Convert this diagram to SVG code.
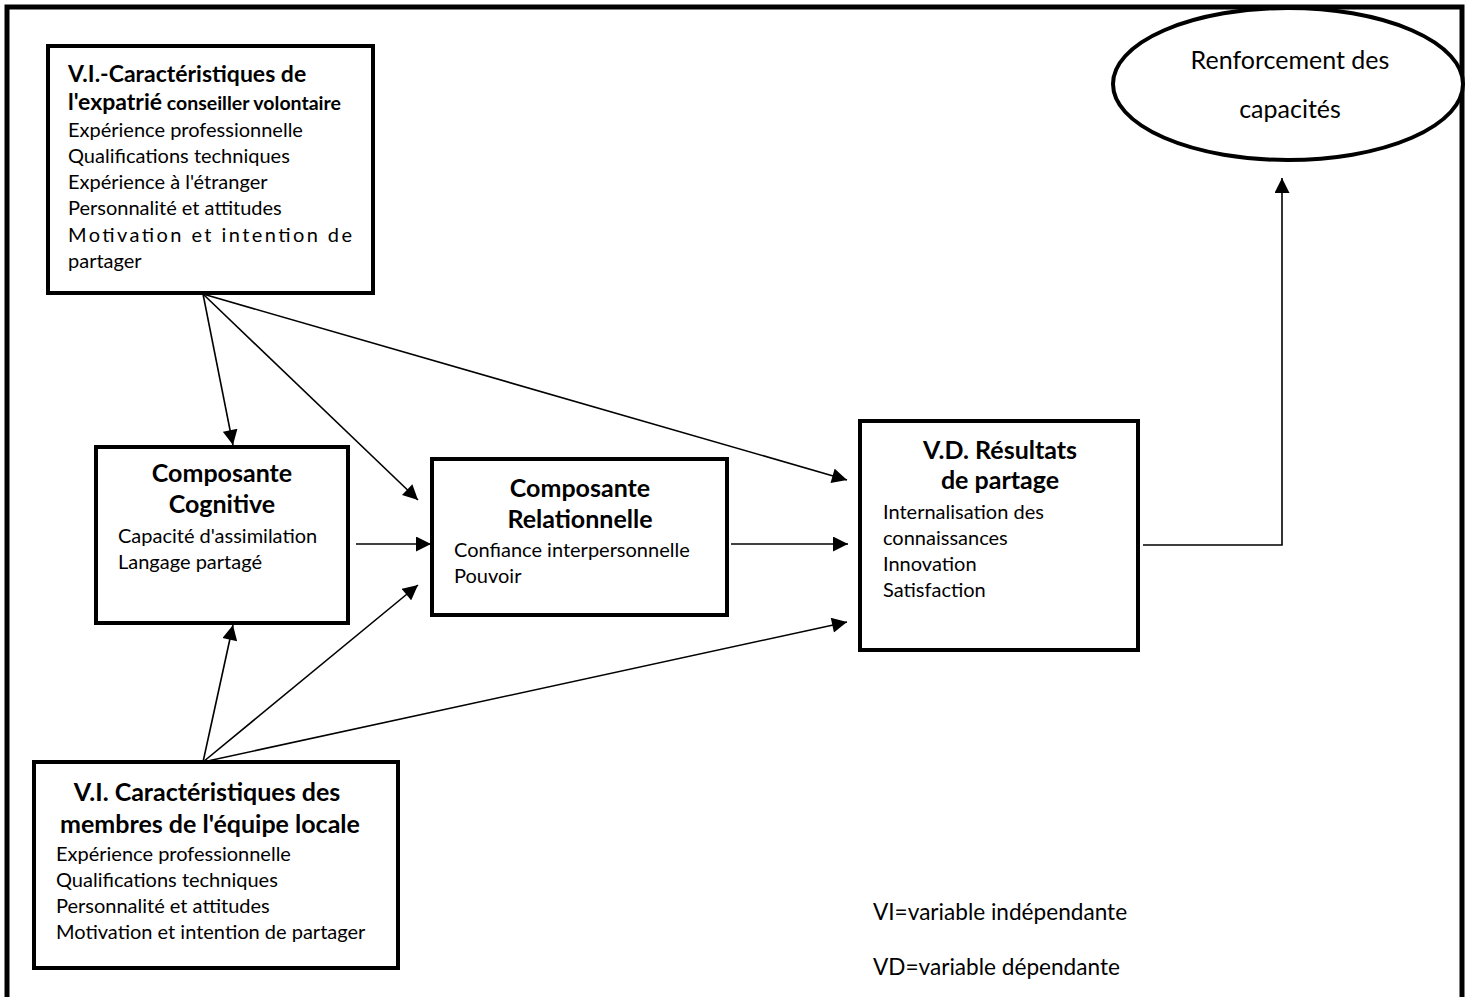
<svg xmlns="http://www.w3.org/2000/svg" width="1473" height="997" viewBox="0 0 1473 997">
<style>
.box{fill:#fff;stroke:#000;stroke-width:4}
.t{font-family:Lato,"Open Sans",sans-serif;font-size:20px;fill:#000}
.h{font-family:Lato,"Open Sans",sans-serif;font-size:25px;font-weight:bold;fill:#000}
.h1{font-family:Lato,"Open Sans",sans-serif;font-size:23px;font-weight:bold;fill:#000}
.c{stroke:#000;stroke-width:1.6;fill:none}
</style>
<defs>
<marker id="ah" viewBox="0 0 10 10" refX="10" refY="5" markerWidth="16" markerHeight="15" markerUnits="userSpaceOnUse" orient="auto">
<path d="M0,0 L10,5 L0,10 z" fill="#000"/>
</marker>
</defs>
<rect x="0" y="0" width="1473" height="997" fill="#fff"/>
<rect x="7" y="7" width="1455" height="1000" fill="none" stroke="#000" stroke-width="5"/>

<g id="connectors">
<line class="c" x1="203" y1="294" x2="233" y2="445" marker-end="url(#ah)"/>
<line class="c" x1="203" y1="294" x2="418" y2="500" marker-end="url(#ah)"/>
<line class="c" x1="203" y1="294" x2="847" y2="480" marker-end="url(#ah)"/>
<line class="c" x1="203" y1="762" x2="233" y2="625" marker-end="url(#ah)"/>
<line class="c" x1="203" y1="762" x2="418" y2="585" marker-end="url(#ah)"/>
<line class="c" x1="203" y1="762" x2="847" y2="622" marker-end="url(#ah)"/>
<line class="c" x1="356" y1="544" x2="431" y2="544" marker-end="url(#ah)"/>
<line class="c" x1="731" y1="544" x2="848" y2="544" marker-end="url(#ah)"/>
<polyline class="c" points="1143,545 1282,545 1282,178" marker-end="url(#ah)"/>
</g>

<g id="vi-expatrie">
<rect class="box" x="48" y="46" width="325" height="247"/>
<text class="h1" x="68" y="82">V.I.-Caractéristiques de</text>
<text x="68" y="110"><tspan class="h1">l'expatrié</tspan><tspan class="h1" style="font-size:19.5px"> conseiller volontaire</tspan></text>
<text class="t" x="68" y="137">Expérience professionnelle</text>
<text class="t" x="68" y="163">Qualifications techniques</text>
<text class="t" x="68" y="189">Expérience à l'étranger</text>
<text class="t" x="68" y="215">Personnalité et attitudes</text>
<text class="t" x="68" y="242" textLength="284" lengthAdjust="spacing">Motivation et intention de</text>
<text class="t" x="68" y="268">partager</text>
</g>

<g id="renforcement">
<ellipse cx="1288" cy="84" rx="175" ry="76" fill="#fff" stroke="#000" stroke-width="4"/>
<text class="t" style="font-size:25px" x="1290" y="69" text-anchor="middle">Renforcement des</text>
<text class="t" style="font-size:25px" x="1290" y="118" text-anchor="middle">capacités</text>
</g>

<g id="cognitive">
<rect class="box" x="96" y="447" width="252" height="176"/>
<text class="h" x="222" y="482" text-anchor="middle">Composante</text>
<text class="h" x="222" y="513" text-anchor="middle">Cognitive</text>
<text class="t" x="118" y="543">Capacité d'assimilation</text>
<text class="t" x="118" y="569">Langage partagé</text>
</g>

<g id="relationnelle">
<rect class="box" x="432" y="459" width="295" height="156"/>
<text class="h" x="580" y="497" text-anchor="middle">Composante</text>
<text class="h" x="580" y="528" text-anchor="middle">Relationnelle</text>
<text class="t" x="454" y="557">Confiance interpersonnelle</text>
<text class="t" x="454" y="583">Pouvoir</text>
</g>

<g id="vd-resultats">
<rect class="box" x="860" y="421" width="278" height="229"/>
<text class="h" x="1000" y="459" text-anchor="middle">V.D. Résultats</text>
<text class="h" x="1000" y="489" text-anchor="middle">de partage</text>
<text class="t" x="883" y="519">Internalisation des</text>
<text class="t" x="883" y="545">connaissances</text>
<text class="t" x="883" y="571">Innovation</text>
<text class="t" x="883" y="597">Satisfaction</text>
</g>

<g id="vi-equipe">
<rect class="box" x="34" y="762" width="364" height="206"/>
<text class="h" x="207" y="801" text-anchor="middle">V.I. Caractéristiques des</text>
<text class="h" x="210" y="833" text-anchor="middle">membres de l'équipe locale</text>
<text class="t" x="56" y="861">Expérience professionnelle</text>
<text class="t" x="56" y="887">Qualifications techniques</text>
<text class="t" x="56" y="913">Personnalité et attitudes</text>
<text class="t" x="56" y="939">Motivation et intention de partager</text>
</g>

<g id="legend">
<text class="t" style="font-size:22.6px" x="873" y="920">VI=variable indépendante</text>
<text class="t" style="font-size:22.6px" x="873" y="975">VD=variable dépendante</text>
</g>
</svg>
